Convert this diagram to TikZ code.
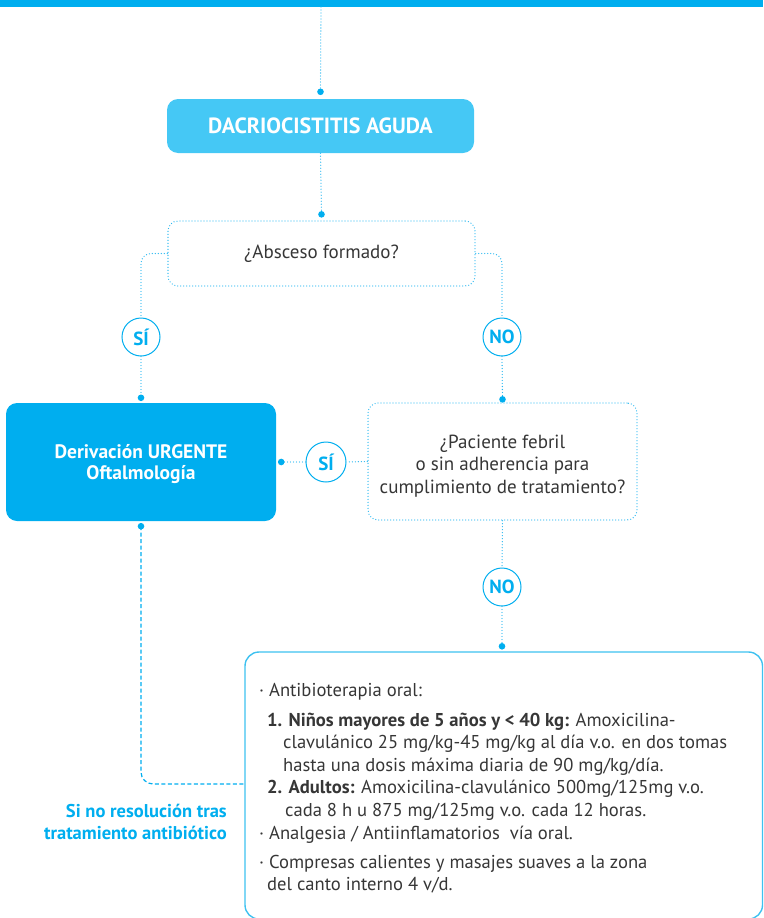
\documentclass[tikz,border=0pt]{standalone}
\usepackage{fontspec}
\setmainfont{PT Sans}
\usetikzlibrary{calc}

\definecolor{brand}{HTML}{00AEEF}
\definecolor{brandlight}{HTML}{45C8F5}
\definecolor{dotc}{HTML}{2BB8F0}
\definecolor{framec}{HTML}{3EC1F0}
\definecolor{ink}{HTML}{363636}

% centred lines, lowered by #1 without changing the box size
\newcommand{\lowerlines}[2]{\raisebox{-#1}[\height][\depth]{\begin{tabular}{@{}c@{}}#2\end{tabular}}}

\tikzset{
  dotline/.style={draw=dotc, line width=1.3pt, dash pattern=on 0pt off 3pt, line cap=round},
  dashline/.style={draw=brand, line width=1.2pt, dash pattern=on 4pt off 2.5pt},
  solidbox/.style={rectangle, rounded corners=11pt, fill=#1, text=white,
    font=\bfseries\fontsize{19.5}{21.5}\selectfont},
  qbox/.style={rectangle, rounded corners=10pt, dotline, text=ink,
    font=\fontsize{19}{22.3}\selectfont},
  answer/.style={circle, draw=brand, line width=1pt, fill=white, inner sep=0pt,
    minimum size=38pt, text=brand, font=\bfseries\fontsize{19}{19}\selectfont},
  framebox/.style={rectangle, rounded corners=14pt, draw=framec, line width=1.4pt},
  jointdot/.style={fill=brand},
}

\begin{document}
\begin{tikzpicture}[x=1pt, y=-1pt]
  \useasboundingbox (0,0) rectangle (763,918);
  % header band
  \fill[brand] (0,0) rectangle (763,6.5);

  % boxes
  \node[solidbox=brandlight, minimum width=307pt, minimum height=54pt,
        font=\bfseries\fontsize{22}{22}\selectfont] (acute) at (320.5,126) {DACRIOCISTITIS AGUDA};
  \node[qbox, minimum width=307pt, minimum height=65pt] (q1) at (321.5,253.5) {¿Absceso formado?};
  \node[answer] (si1) at (141,337) {SÍ};
  \node[answer] (no1) at (502,337) {NO};
  \node[solidbox=brand, minimum width=270pt, minimum height=118pt] (deriv) at (141,462)
    {\lowerlines{2.5pt}{Derivación URGENTE\\Oftalmología}};
  \node[qbox, minimum width=269pt, minimum height=117pt] (q2) at (502.5,461.5)
    {\lowerlines{5pt}{¿Paciente febril\\o sin adherencia para\\cumplimiento de tratamiento?}};
  \node[answer, minimum size=40pt] (si2) at (326,462) {SÍ};
  \node[answer] (no2) at (502,587) {NO};
  \node[framebox, minimum width=517.5pt, minimum height=267pt] (tr) at (503.75,785.5) {};

  % treatment text
  \node[anchor=north west, inner sep=0pt, align=left, text=ink,
        font=\fontsize{18.6}{22.6}\selectfont] (body) at (259,683.5) {%
    · Antibioterapia oral:\\[6.5pt]
    \hspace*{8pt}\textbf{1. Niños mayores de 5 años y < 40 kg:} Amoxicilina-\\
    \hspace*{24pt}clavulánico 25 mg/kg-45 mg/kg al día v.o. en dos tomas\\
    \hspace*{24pt}hasta una dosis máxima diaria de 90 mg/kg/día.\\
    \hspace*{8pt}\textbf{2. Adultos:} Amoxicilina-clavulánico 500mg/125mg v.o.\\
    \hspace*{26pt}cada 8 h u 875 mg/125mg v.o. cada 12 horas.\\
    · Analgesia / Antiinflamatorios\ \ vía oral.\\[6.5pt]
    · Compresas calientes y masajes suaves a la zona\\
    \hspace*{8pt}del canto interno 4 v/d.};

  \node[anchor=east, inner sep=0pt, align=right, text=brand,
        font=\bfseries\fontsize{18.5}{22}\selectfont] (note) at (227,822) {Si no resolución tras\\tratamiento antibiótico};

  % connector end points
  \coordinate (topc) at (321,7);
  \coordinate (d1) at ($(acute.north)+(0,-7)$);
  \coordinate (d2) at ($(q1.north)+(0,-6)$);
  \coordinate (d3) at ($(deriv.north)+(0,-5)$);
  \coordinate (d4) at ($(q2.north)+(0,-3)$);
  \coordinate (d5) at ($(deriv.east)+(5,0)$);
  \coordinate (d6) at ($(deriv.south)+(0,5)$);
  \coordinate (d7) at ($(no2 |- tr.north)+(0,-5)$);
  \coordinate (trL) at (tr.west |- 0,784);

  % connectors
  \draw[dotline] (topc) -- (d1);
  \draw[dotline] (acute.south) -- (d2);
  \draw[dotline, rounded corners=10pt] (q1.west) -| (si1.north);
  \draw[dotline] (si1.south) -- (d3);
  \draw[dotline, rounded corners=10pt] (q1.east) -| (no1.north);
  \draw[dotline] (no1.south) -- (d4);
  \draw[dotline] (q2.west) -- (si2.east);
  \draw[dotline] (si2.west) -- (d5);
  \draw[dotline] (q2.south) -- (no2.north);
  \draw[dotline] (no2.south) -- (d7);
  \draw[dashline, rounded corners=12pt] (d6) |- (trL);

  % joint dots
  \foreach \p in {d1,d2,d3,d4,d5,d6,d7}
    \fill[jointdot] (\p) circle (3.3pt);
\end{tikzpicture}
\end{document}
